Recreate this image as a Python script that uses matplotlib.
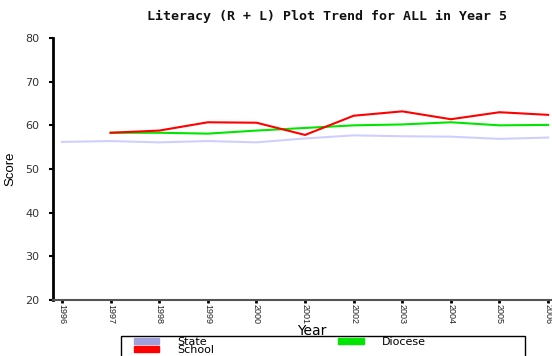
import matplotlib
matplotlib.use("Agg")
import matplotlib.pyplot as plt
from matplotlib.patches import Patch, Rectangle

# Data
years = [1996, 1997, 1998, 1999, 2000, 2001, 2002, 2003, 2004, 2005, 2006]
state = [56.2, 56.4, 56.1, 56.4, 56.1, 57.0, 57.7, 57.5, 57.4, 56.9, 57.2]
diocese_years = years[1:]
diocese = [58.3, 58.3, 58.1, 58.8, 59.4, 60.0, 60.2, 60.7, 60.0, 60.1]
school_years = years[1:]
school = [58.3, 58.8, 60.7, 60.6, 57.8, 62.2, 63.2, 61.4, 63.0, 62.4]
yticks = [20, 30, 40, 50, 60, 70, 80]

state_line = '#cfcfff'
state_patch = '#a0a0dc'
diocese_col = '#00e600'
school_col = '#ff0000'

fig = plt.figure(figsize=(5.52, 3.56), dpi=100)
ax = fig.add_axes([53 / 552, 56 / 356, 499 / 552, 262 / 356])

ax.plot(years, state, color=state_line, lw=1.5)
ax.plot(diocese_years, diocese, color=diocese_col, lw=1.5)
ax.plot(school_years, school, color=school_col, lw=1.5)

ax.set_xlim(1995.815, 2006.08)
ax.set_ylim(20, 80)
ax.set_yticks(yticks)
ax.set_yticklabels([str(v) for v in yticks], fontsize=8, family='DejaVu Sans', color='#333333')
ax.set_xticks(years)
ax.set_xticklabels([str(y) for y in years], rotation=270, fontsize=6.5,
                   family='Liberation Sans', color='#222222')

for s in ['top', 'right']:
    ax.spines[s].set_visible(False)
ax.spines['left'].set_linewidth(2)
ax.spines['left'].set_color('black')
ax.spines['bottom'].set_linewidth(1.5)
ax.spines['bottom'].set_color('#555555')
ax.tick_params(axis='y', length=3, width=1.5, pad=7)
ax.tick_params(axis='x', length=2, width=2, pad=1)

ax.set_xlabel('Year', fontsize=10, family='DejaVu Sans')
ax.xaxis.set_label_coords(0.519, -0.092)
ax.set_ylabel('Score', fontsize=9.5, family='Liberation Sans', labelpad=6)

fig.text(0.593, 0.955, 'Literacy (R + L) Plot Trend for ALL in Year 5',
         ha='center', va='center', fontsize=9.5, family='DejaVu Sans Mono',
         fontweight='bold', color='#111111')

# legend frame runs off the bottom edge like the reference
fig.add_artist(Rectangle((121 / 552, -0.05), 404 / 552, 0.05 + 20 / 356,
                         transform=fig.transFigure, facecolor='white',
                         edgecolor='black', lw=1))

handles = [Patch(color=state_patch, label='State'),
           Patch(color=school_col, label='School'),
           Patch(color=diocese_col, label='Diocese')]
leg = fig.legend(handles=handles, ncol=2, loc='upper left',
                 bbox_to_anchor=(133 / 552, 1 - 336 / 356),
                 prop={'family': 'DejaVu Sans', 'size': 8}, frameon=False,
                 borderpad=0.05, labelspacing=-0.12,
                 handlelength=2.3, handleheight=0.45, handletextpad=1.6,
                 columnspacing=11.2, borderaxespad=0)

fig.savefig('out.png', dpi=100)
